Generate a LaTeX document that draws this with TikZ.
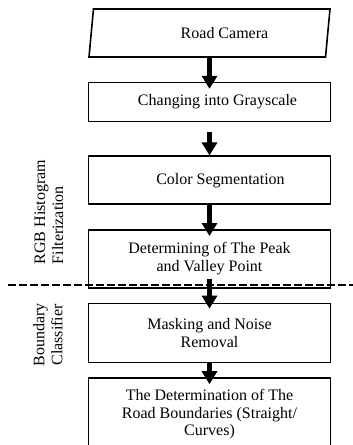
\documentclass[tikz,border=0pt]{standalone}
\usepackage{fontspec}
\setmainfont{Liberation Serif}
\usetikzlibrary{positioning,arrows.meta,shapes.geometric}

\tikzset{
	box/.style={draw, line width=1.6pt, minimum width=242pt, align=center,
		font=\fontsize{16}{17.5}\selectfont},
	flow/.style={line width=5pt, -{Triangle[width=15pt,length=13pt]}},
	sep/.style={line width=2pt, dash pattern=on 8pt off 3pt},
	side/.style={rotate=90, font=\fontsize{16}{18}\selectfont}
}

\begin{document}
\begin{tikzpicture}[x=1pt, y=-1pt]
	\useasboundingbox (0,0) rectangle (353,445);

	\node[trapezium, trapezium left angle=76, trapezium right angle=104,
		trapezium stretches body, draw, line width=1.6pt, minimum width=241pt,
		minimum height=48pt, font=\fontsize{16}{17.5}\selectfont] (cam) at (209.5,33) {\hspace*{30pt}Road Camera};
	\node[box, minimum height=39pt, below=24pt of cam] (gray) {\hspace*{16pt}Changing into Grayscale};
	\node[box, minimum height=48pt, below=33pt of gray] (seg) {\hspace*{22pt}Color Segmentation};
	\node[box, minimum height=58pt, below=24pt of seg] (peak) {Determining of The Peak\\and Valley Point};
	\node[box, minimum height=59pt, below=14pt of peak] (mask) {Masking and Noise\\Removal};
	\node[box, minimum height=73pt, below=14pt of mask] (bound) {The Determination of The\\Road Boundaries (Straight/\\Curves)};

	\draw[flow] (cam.south) -- ([yshift=-7pt]gray.north);
	\draw[flow] ([yshift=-10pt]gray.south) -- (seg.north);
	\draw[flow] (seg.south) -- ([yshift=-7pt]peak.north);
	\draw[flow] ([yshift=10pt]peak.south) -- ([yshift=-6pt]mask.north);
	\draw[flow] (mask.south) -- ([yshift=-7pt]bound.north);

	\draw[sep] (8,285) -- (353,285);

	\node[side, align=left] (rgb) at (49,212) {RGB Histogram\\Filterization};
	\node[side, align=center] (cls) at (48,335) {Boundary\\Classifier};
\end{tikzpicture}
\end{document}
